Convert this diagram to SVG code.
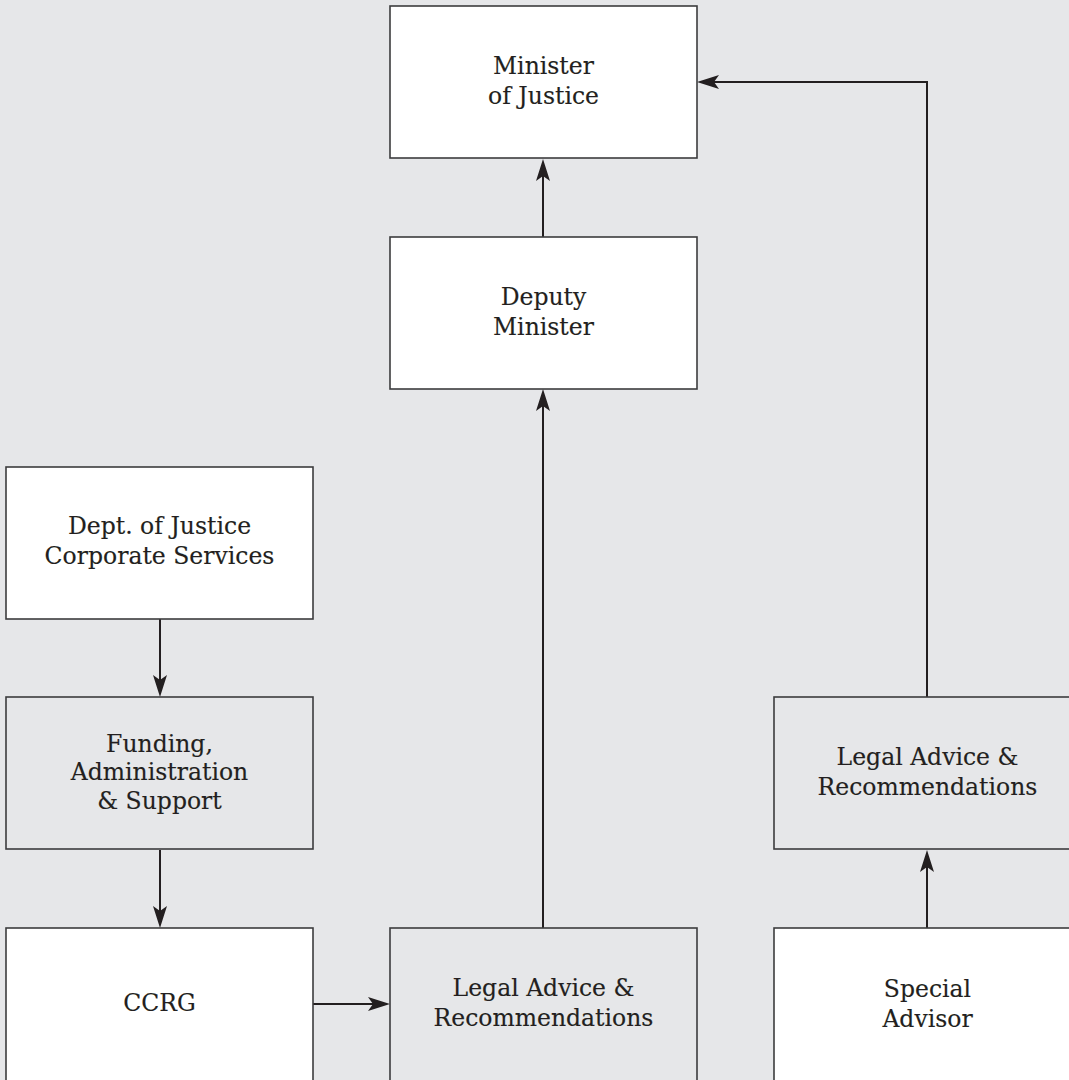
<svg xmlns="http://www.w3.org/2000/svg" width="1069" height="1080" viewBox="0 0 1069 1080">
<style>
.box{stroke:#3c3c3e;stroke-width:1.6}
.w{fill:#ffffff}
.g{fill:#e6e7e9}
.t{font-family:"DejaVu Serif","Liberation Serif",serif;font-size:23.5px;fill:#231f20;text-anchor:middle;stroke:#231f20;stroke-width:0.15}
.c{fill:none;stroke:#231f20;stroke-width:2}
</style>
<defs>
<marker id="ah" viewBox="0 -8 22 16" refX="15" refY="0" markerWidth="22" markerHeight="16" markerUnits="userSpaceOnUse" orient="auto">
<path d="M0,-7 L22,0 L0,7 L5,0 Z" fill="#231f20"/>
</marker>
</defs>
<rect x="0" y="0" width="1069" height="1080" fill="#e6e7e9"/>
<g id="connectors">
<path class="c" d="M543,237 V166" marker-end="url(#ah)"/>
<path class="c" d="M543,928 V396" marker-end="url(#ah)"/>
<path class="c" d="M160,619 V690" marker-end="url(#ah)"/>
<path class="c" d="M160,850 V921" marker-end="url(#ah)"/>
<path class="c" d="M313,1004 H383" marker-end="url(#ah)"/>
<path class="c" d="M927,928 V857" marker-end="url(#ah)"/>
<path class="c" d="M927,697 V82 H704" marker-end="url(#ah)"/>
</g>
<g id="minister">
<rect class="box w" x="390" y="6" width="307" height="152"/>
<text class="t" x="543.5" y="74">Minister</text>
<text class="t" x="543.5" y="104">of Justice</text>
</g>
<g id="deputy">
<rect class="box w" x="390" y="237" width="307" height="152"/>
<text class="t" x="543.5" y="305">Deputy</text>
<text class="t" x="543.5" y="335">Minister</text>
</g>
<g id="corporate">
<rect class="box w" x="6" y="467" width="307" height="152"/>
<text class="t" x="159.5" y="534">Dept. of Justice</text>
<text class="t" x="159.5" y="564">Corporate Services</text>
</g>
<g id="funding">
<rect class="box g" x="6" y="697" width="307" height="152"/>
<text class="t" x="159.5" y="752">Funding,</text>
<text class="t" x="159.5" y="780">Administration</text>
<text class="t" x="159.5" y="809">&amp; Support</text>
</g>
<g id="ccrg">
<rect class="box w" x="6" y="928" width="307" height="160"/>
<text class="t" x="159.5" y="1011">CCRG</text>
</g>
<g id="legal-mid">
<rect class="box g" x="390" y="928" width="307" height="160"/>
<text class="t" x="543.5" y="996">Legal Advice &amp;</text>
<text class="t" x="543.5" y="1026">Recommendations</text>
</g>
<g id="legal-right">
<rect class="box g" x="774" y="697" width="307" height="152"/>
<text class="t" x="927.5" y="765">Legal Advice &amp;</text>
<text class="t" x="927.5" y="795">Recommendations</text>
</g>
<g id="special">
<rect class="box w" x="774" y="928" width="307" height="160"/>
<text class="t" x="927.5" y="997">Special</text>
<text class="t" x="927.5" y="1027">Advisor</text>
</g>
</svg>
